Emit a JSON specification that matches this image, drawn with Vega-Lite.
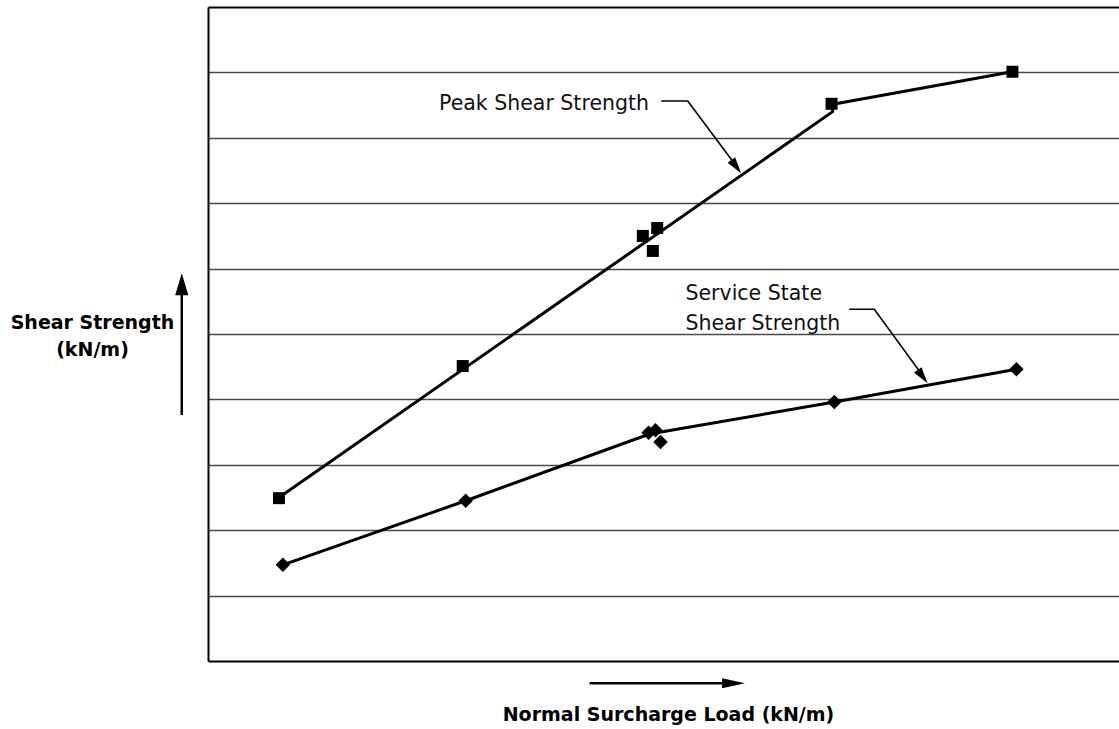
{
  "$schema": "https://vega.github.io/schema/vega-lite/v6.json",
  "width": 911,
  "height": 654,
  "autosize": {"type": "none"},
  "padding": {"left": 208, "top": 7, "right": 0, "bottom": 68},
  "background": "white",
  "config": {"view": {"stroke": null}, "font": "DejaVu Sans"},
  "datasets": {
    "points": [
      {"series": "Peak", "load": 7.79, "strength": 2.49},
      {"series": "Peak", "load": 27.96, "strength": 4.51},
      {"series": "Peak", "load": 47.73, "strength": 6.5},
      {"series": "Peak", "load": 48.83, "strength": 6.27},
      {"series": "Peak", "load": 49.31, "strength": 6.62},
      {"series": "Peak", "load": 68.45, "strength": 8.52},
      {"series": "Peak", "load": 88.3, "strength": 9.01},
      {"series": "Service", "load": 8.22, "strength": 1.47},
      {"series": "Service", "load": 28.29, "strength": 2.45},
      {"series": "Service", "load": 48.36, "strength": 3.49},
      {"series": "Service", "load": 49.12, "strength": 3.53},
      {"series": "Service", "load": 49.67, "strength": 3.35},
      {"series": "Service", "load": 68.75, "strength": 3.96},
      {"series": "Service", "load": 88.74, "strength": 4.46}
    ],
    "curves": [
      {"curve": "Peak", "seq": 1, "load": 8.11, "strength": 2.53},
      {"curve": "Peak", "seq": 2, "load": 68.57, "strength": 8.4},
      {"curve": "Peak", "seq": 3, "load": 68.45, "strength": 8.51},
      {"curve": "Peak", "seq": 4, "load": 88.3, "strength": 9.01},
      {"curve": "Service", "seq": 1, "load": 8.22, "strength": 1.47},
      {"curve": "Service", "seq": 2, "load": 28.29, "strength": 2.45},
      {"curve": "Service", "seq": 3, "load": 48.46, "strength": 3.47},
      {"curve": "Service", "seq": 4, "load": 68.75, "strength": 3.96},
      {"curve": "Service", "seq": 5, "load": 88.74, "strength": 4.46}
    ],
    "leaders": [
      {"id": "peak", "seq": 1, "load": 49.75, "strength": 8.563},
      {"id": "peak", "seq": 2, "load": 52.66, "strength": 8.563},
      {"id": "peak", "seq": 3, "load": 58.19, "strength": 7.531},
      {"id": "service", "seq": 1, "load": 70.39, "strength": 5.378},
      {"id": "service", "seq": 2, "load": 73.14, "strength": 5.378},
      {"id": "service", "seq": 3, "load": 78.68, "strength": 4.321}
    ],
    "leaderTips": [
      {"id": "peak", "load": 58.52, "strength": 7.457},
      {"id": "service", "load": 78.98, "strength": 4.246}
    ],
    "axisArrows": [
      {"id": "y", "seq": 1, "load": -2.88, "strength": 3.76},
      {"id": "y", "seq": 2, "load": -2.88, "strength": 5.75},
      {"id": "x", "seq": 1, "load": 41.89, "strength": -0.341},
      {"id": "x", "seq": 2, "load": 57.8, "strength": -0.341}
    ],
    "axisTips": [
      {"id": "y", "load": -2.88, "strength": 5.928},
      {"id": "x", "load": 58.95, "strength": -0.341}
    ],
    "labels": [
      {"label": "Peak Shear Strength", "load": 25.36, "strength": 8.425},
      {"label": "Service State", "load": 52.41, "strength": 5.52},
      {"label": "Shear Strength", "load": 52.41, "strength": 5.061}
    ]
  },
  "encoding": {
    "x": {
      "field": "load",
      "type": "quantitative",
      "scale": {"domain": [0, 100], "nice": false, "zero": false},
      "axis": {
        "title": "Normal Surcharge Load (kN/m)",
        "labels": false,
        "ticks": false,
        "grid": false,
        "domain": true,
        "domainColor": "#000",
        "domainWidth": 2,
        "titleFont": "DejaVu Sans",
        "titleFontWeight": "bold",
        "titleFontSize": 19,
        "titleColor": "#000",
        "titleX": 460,
        "titleY": 59,
        "titleAlign": "center",
        "titleBaseline": "alphabetic"
      }
    },
    "y": {
      "field": "strength",
      "type": "quantitative",
      "scale": {"domain": [0, 10], "nice": false, "zero": false},
      "axis": {
        "title": ["Shear Strength", "(kN/m)"],
        "values": [1, 2, 3, 4, 5, 6, 7, 8, 9, 10],
        "labels": false,
        "ticks": false,
        "grid": true,
        "gridColor": {"condition": {"test": "datum.value === 10", "value": "#000"}, "value": "#4a4a4a"},
        "gridWidth": {"condition": {"test": "datum.value === 10", "value": 2}, "value": 1.6},
        "domain": true,
        "domainColor": "#000",
        "domainWidth": 2,
        "titleFont": "DejaVu Sans",
        "titleFontWeight": "bold",
        "titleFontSize": 19,
        "titleColor": "#000",
        "titleAngle": 0,
        "titleAlign": "center",
        "titleBaseline": "alphabetic",
        "titleLineHeight": 27,
        "titleX": -116,
        "titleY": 321
      }
    }
  },
  "layer": [
    {
      "data": {"name": "curves"},
      "mark": {"type": "line", "color": "#000", "strokeWidth": 3},
      "encoding": {"detail": {"field": "curve"}, "order": {"field": "seq"}}
    },
    {
      "data": {"name": "points"},
      "transform": [{"filter": "datum.series === 'Peak'"}],
      "mark": {"type": "point", "shape": "square", "filled": true, "color": "#000", "opacity": 1, "size": 144}
    },
    {
      "data": {"name": "points"},
      "transform": [{"filter": "datum.series === 'Service'"}],
      "mark": {"type": "point", "shape": "diamond", "filled": true, "color": "#000", "opacity": 1, "size": 210}
    },
    {
      "data": {"name": "leaders"},
      "mark": {"type": "line", "color": "#000", "strokeWidth": 1.6},
      "encoding": {"detail": {"field": "id"}, "order": {"field": "seq"}}
    },
    {
      "data": {"name": "leaderTips"},
      "mark": {"type": "point", "shape": "M0,0L-1,-0.28L-1,0.28Z", "filled": true, "color": "#000", "opacity": 1, "size": 1100, "angle": 54}
    },
    {
      "data": {"name": "axisArrows"},
      "mark": {"type": "line", "color": "#000", "strokeWidth": 2.5},
      "encoding": {"detail": {"field": "id"}, "order": {"field": "seq"}}
    },
    {
      "data": {"name": "axisTips"},
      "transform": [{"filter": "datum.id === 'y'"}],
      "mark": {"type": "point", "shape": "M0,0L-1,-0.3L-1,0.3Z", "filled": true, "color": "#000", "opacity": 1, "size": 1936, "angle": 270}
    },
    {
      "data": {"name": "axisTips"},
      "transform": [{"filter": "datum.id === 'x'"}],
      "mark": {"type": "point", "shape": "M0,0L-1,-0.22L-1,0.22Z", "filled": true, "color": "#000", "opacity": 1, "size": 2116, "angle": 0}
    },
    {
      "data": {"name": "labels"},
      "mark": {"type": "text", "align": "left", "baseline": "alphabetic", "font": "DejaVu Sans", "fontSize": 20.5, "color": "#111"},
      "encoding": {"text": {"field": "label"}}
    }
  ]
}
